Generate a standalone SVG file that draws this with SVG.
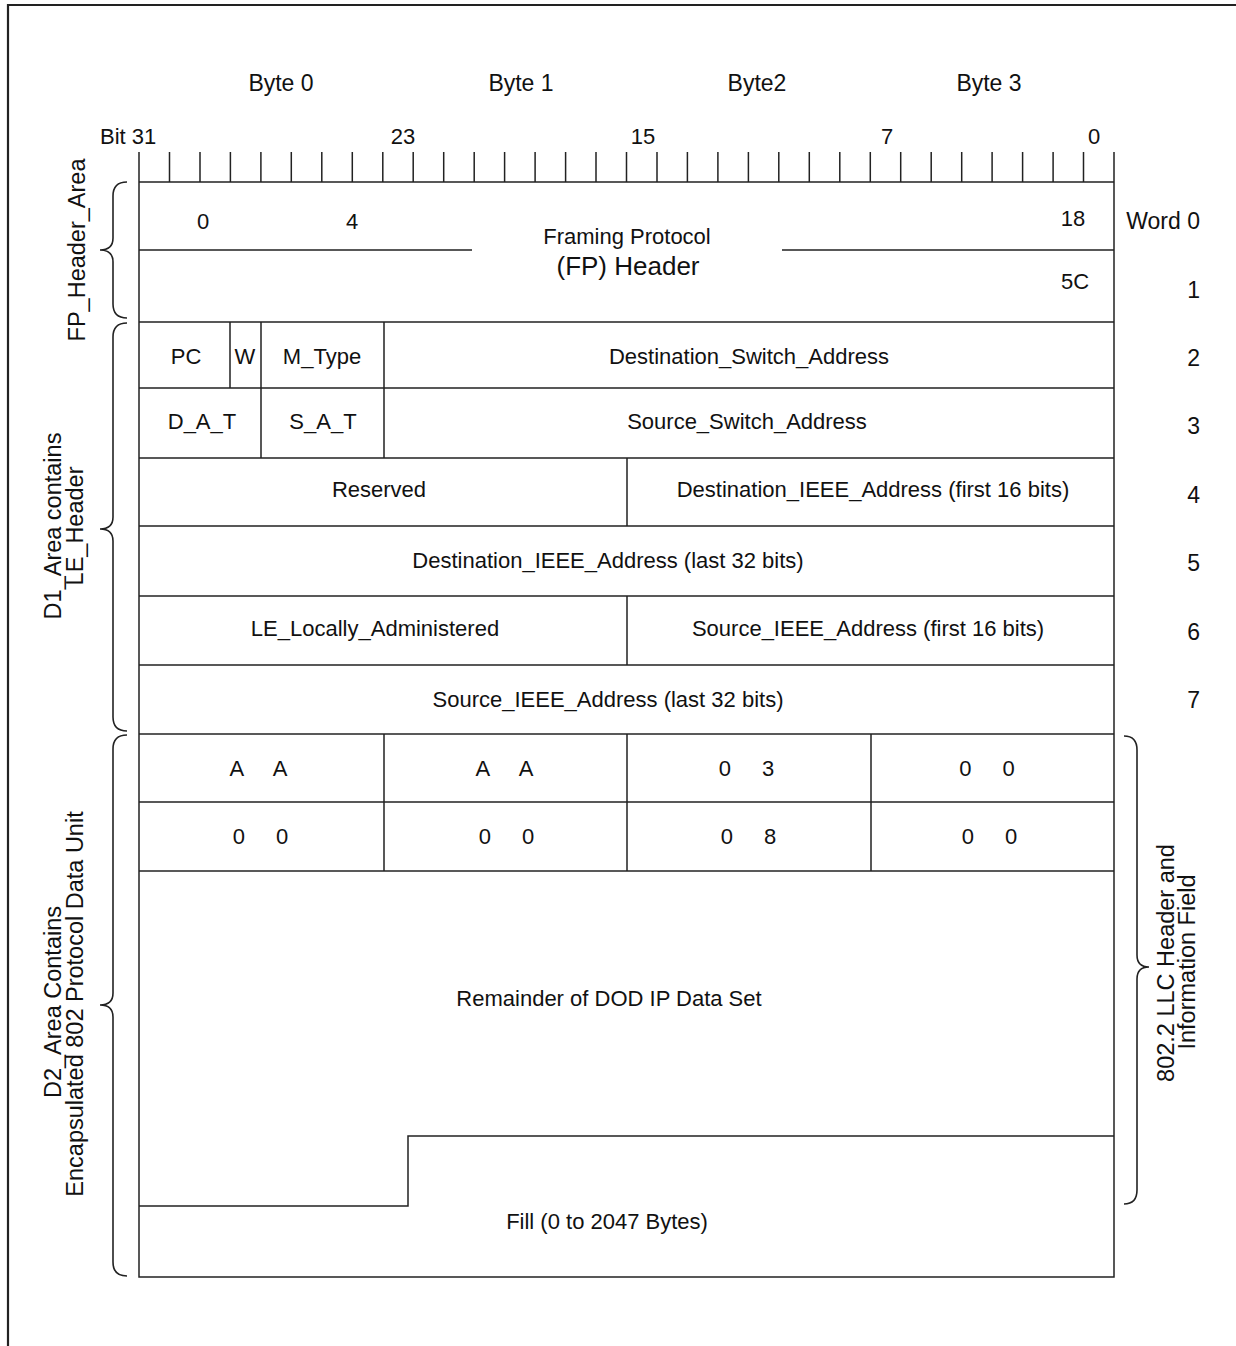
<svg xmlns="http://www.w3.org/2000/svg" width="1236" height="1346" viewBox="0 0 1236 1346">
<style>
text{font-family:"Liberation Sans",Arial,sans-serif;fill:#111;font-size:22px}
.m{text-anchor:middle}
.e{text-anchor:end}
.hd{font-size:23px}
.rot{font-size:23.5px;text-anchor:middle}
.pair{word-spacing:25px;text-anchor:middle}
.ln{stroke:#222;stroke-width:1.5;fill:none}
.br{stroke:#222;stroke-width:1.6;fill:none}
</style>
<rect width="1236" height="1346" fill="#fff"/>
<path d="M8,1346 V5 H1236" stroke="#222" stroke-width="2.2" fill="none"/>

<g id="header-labels">
<text class="hd m" x="281" y="91">Byte 0</text>
<text class="hd m" x="521" y="91">Byte 1</text>
<text class="hd m" x="757" y="91">Byte2</text>
<text class="hd m" x="989" y="91">Byte 3</text>
<text x="100" y="144">Bit 31</text>
<text class="m" x="403" y="144">23</text>
<text class="m" x="643" y="144">15</text>
<text class="m" x="887" y="144">7</text>
<text class="m" x="1094" y="144">0</text>
</g>

<g id="ruler">
<path class="ln" d="M169.5,152V182 M200,152V182 M230.4,152V182 M260.9,152V182 M291.3,152V182 M321.8,152V182 M352.3,152V182 M382.8,152V182 M413.2,152V182 M443.7,152V182 M474.2,152V182 M504.6,152V182 M535.1,152V182 M565.6,152V182 M596,152V182 M626.5,152V182 M657,152V182 M687.4,152V182 M717.9,152V182 M748.4,152V182 M778.8,152V182 M809.3,152V182 M839.8,152V182 M870.3,152V182 M900.7,152V182 M931.2,152V182 M961.7,152V182 M992.1,152V182 M1022.6,152V182 M1053.1,152V182 M1083.5,152V182"/>
</g>

<g id="table-frame">
<path class="ln" d="M139,152 V1277 H1114 V152 M139,182 H1114"/>
</g>

<g id="fp-header">
<path class="ln" d="M139,250 H472 M782,250 H1114 M139,322 H1114"/>
<text class="m" x="203" y="229">0</text>
<text class="m" x="352" y="229">4</text>
<text class="m" x="1073" y="226">18</text>
<text class="m" x="1075" y="289">5C</text>
<text class="m" x="627" y="244">Framing Protocol</text>
<text class="m" x="628" y="275" style="font-size:26px">(FP) Header</text>
</g>

<g id="word2">
<path class="ln" d="M230,322 V388 M261,322 V388 M384,322 V388 M139,388 H1114"/>
<text class="m" x="186" y="364">PC</text>
<text class="m" x="245" y="364">W</text>
<text class="m" x="322" y="364">M_Type</text>
<text class="m" x="749" y="364">Destination_Switch_Address</text>
</g>

<g id="word3">
<path class="ln" d="M261,388 V458 M384,388 V458 M139,458 H1114"/>
<text class="m" x="202" y="429">D_A_T</text>
<text class="m" x="323" y="429">S_A_T</text>
<text class="m" x="747" y="429">Source_Switch_Address</text>
</g>

<g id="word4">
<path class="ln" d="M627,458 V526 M139,526 H1114"/>
<text class="m" x="379" y="497">Reserved</text>
<text class="m" x="873" y="497">Destination_IEEE_Address (first 16 bits)</text>
</g>

<g id="word5">
<path class="ln" d="M139,596 H1114"/>
<text class="m" x="608" y="568">Destination_IEEE_Address (last 32 bits)</text>
</g>

<g id="word6">
<path class="ln" d="M627,596 V665 M139,665 H1114"/>
<text class="m" x="375" y="636">LE_Locally_Administered</text>
<text class="m" x="868" y="636">Source_IEEE_Address (first 16 bits)</text>
</g>

<g id="word7">
<path class="ln" d="M139,734 H1114"/>
<text class="m" x="608" y="707">Source_IEEE_Address (last 32 bits)</text>
</g>

<g id="word8">
<path class="ln" d="M384,734 V871 M627,734 V871 M871,734 V871 M139,802 H1114"/>
<text class="pair" x="258.5" y="776">A A</text>
<text class="pair" x="504.5" y="776">A A</text>
<text class="pair" x="746.5" y="776">0 3</text>
<text class="pair" x="987" y="776">0 0</text>
</g>

<g id="word9">
<path class="ln" d="M139,871 H1114"/>
<text class="pair" x="260.5" y="844">0 0</text>
<text class="pair" x="506.5" y="844">0 0</text>
<text class="pair" x="748.5" y="844">0 8</text>
<text class="pair" x="989.5" y="844">0 0</text>
</g>

<g id="remainder">
<path class="ln" d="M139,1206 H408 V1136 H1114"/>
<text class="m" x="609" y="1006">Remainder of DOD IP Data Set</text>
</g>

<g id="fill">
<text class="m" x="607" y="1229">Fill (0 to 2047 Bytes)</text>
</g>

<g id="word-labels">
<text class="hd e" x="1200" y="229">Word 0</text>
<text class="hd e" x="1200" y="298">1</text>
<text class="hd e" x="1200" y="366">2</text>
<text class="hd e" x="1200" y="434">3</text>
<text class="hd e" x="1200" y="503">4</text>
<text class="hd e" x="1200" y="571">5</text>
<text class="hd e" x="1200" y="640">6</text>
<text class="hd e" x="1200" y="708">7</text>
</g>

<g id="braces">
<path class="br" d="M127,182 Q113,182 113,196 V238 Q113,250 100,250 Q113,250 113,262 V304 Q113,318 127,318"/>
<path class="br" d="M127,323 Q113,323 113,337 V517 Q113,529 100,529 Q113,529 113,541 V717 Q113,731 127,731"/>
<path class="br" d="M127,735 Q113,735 113,749 V993 Q113,1005 100,1005 Q113,1005 113,1017 V1262 Q113,1276 127,1276"/>
<path class="br" d="M1124,736 Q1137,736 1137,750 V955 Q1137,967 1149,967 Q1137,967 1137,979 V1190 Q1137,1204 1124,1204"/>
</g>

<g id="side-labels">
<text class="rot" transform="translate(85,250) rotate(-90)">FP_Header_Area</text>
<text class="rot" transform="translate(61,526) rotate(-90)">D1_Area contains</text>
<text class="rot" transform="translate(83,526) rotate(-90)">LE_Header</text>
<text class="rot" transform="translate(61,1002) rotate(-90)">D2_Area Contains</text>
<text class="rot" transform="translate(83,1004) rotate(-90)">Encapsulated 802 Protocol Data Unit</text>
<text class="rot" transform="translate(1174,963) rotate(-90)">802.2 LLC Header and</text>
<text class="rot" transform="translate(1195,962) rotate(-90)">Information Field</text>
</g>
</svg>
